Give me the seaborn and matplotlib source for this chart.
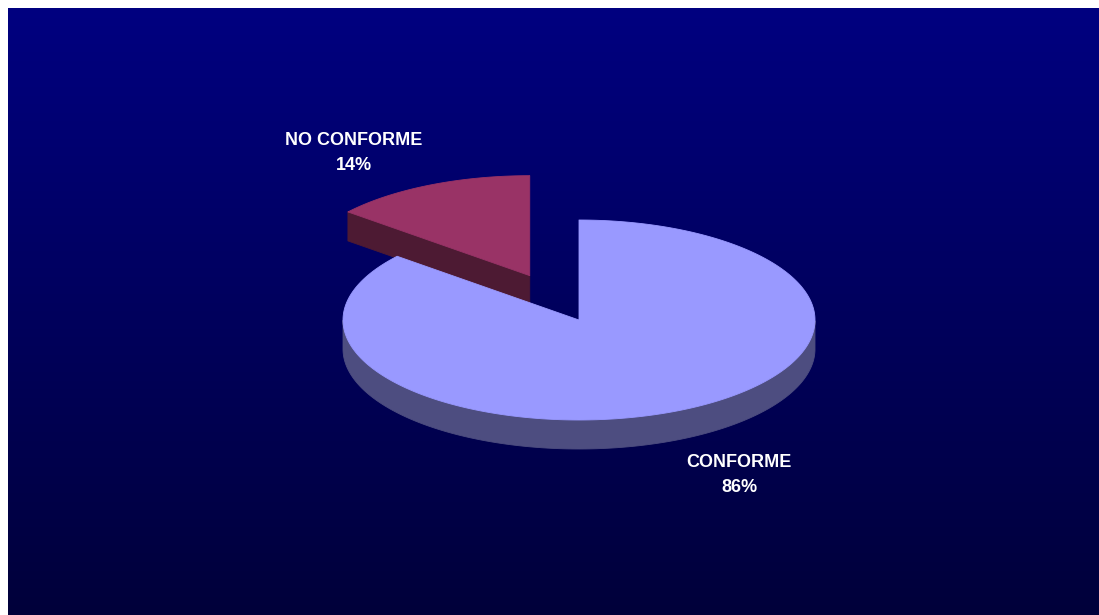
import numpy as np
import matplotlib
matplotlib.use("Agg")
import matplotlib.pyplot as plt
from matplotlib.patches import Polygon
import seaborn as sns

# Data
categories = ["CONFORME", "NO CONFORME"]
shares = [86, 14]
top_colors = ["#9999FF", "#993366"]
explode = [0.0, 0.49]
label_xy = [(739, 475), (354, 153)]

sns.set_theme(style="white")
plt.rcParams["font.family"] = ["Liberation Sans", "DejaVu Sans"]

W, H = 1099, 615
fig = plt.figure(figsize=(W / 100, H / 100), dpi=100, facecolor="white")
ax = fig.add_axes([0, 0, 1, 1])
ax.set_xlim(0, W)
ax.set_ylim(H, 0)
ax.axis("off")

# Vertical navy gradient behind the chart
g = np.linspace(0, 1, 256)[:, None, None]
c_top = np.array([0, 0, 128]) / 255
c_bot = np.array([0, 0, 58]) / 255
img = c_top + (c_bot - c_top) * g
ax.imshow(img, extent=[8, W, H, 8], aspect="auto",
          interpolation="bilinear", zorder=0)

# Pie geometry (projected ellipse with depth)
cx, cy = 579, 320
rx, ry = 236, 100
depth = 29


def rim(t, ox, oy, dz=0.0):
    return np.column_stack([cx + ox + rx * np.cos(t),
                            cy + oy - ry * np.sin(t) + dz])


def shade(hex_color, f=0.5):
    rgb = np.array(matplotlib.colors.to_rgb(hex_color))
    return tuple(rgb * f)


# Slices run clockwise from 12 o'clock
total = float(sum(shares))
slices = []
start = np.pi / 2
for cat, val, col, ex in zip(categories, shares, top_colors, explode):
    sweep = 2 * np.pi * val / total
    t1 = start
    t0 = start - sweep
    start = t0
    mid = 0.5 * (t0 + t1)
    ox = ex * rx * np.cos(mid)
    oy = -ex * ry * np.sin(mid)
    slices.append(dict(cat=cat, val=val, col=col, t0=t0, t1=t1,
                       mid=mid, ox=ox, oy=oy))

# Back slices first
slices.sort(key=lambda s: -np.sin(s["mid"]))

z = 2
for s in slices:
    t0, t1, ox, oy = s["t0"], s["t1"], s["ox"], s["oy"]
    side = shade(s["col"], 0.5)
    kw = dict(linewidth=0.6, joinstyle="round")

    # Outer wall on the front half
    ts = np.linspace(t0, t1, 600)
    front = np.sin(ts) <= 0
    idx = np.flatnonzero(front)
    if idx.size:
        groups = np.split(idx, np.flatnonzero(np.diff(idx) > 1) + 1)
        for grp in groups:
            tt = ts[grp]
            pts = np.vstack([rim(tt, ox, oy), rim(tt[::-1], ox, oy, depth)])
            ax.add_patch(Polygon(pts, closed=True, facecolor=side,
                                 edgecolor=side, zorder=z, **kw))

    # Radial cut faces that face the viewer
    apex = np.array([cx + ox, cy + oy])
    for t, visible in ((t0, np.cos(t0) > 1e-9), (t1, np.cos(t1) < -1e-9)):
        if visible:
            p = rim(np.array([t]), ox, oy)[0]
            pts = np.array([apex, p, p + [0, depth], apex + [0, depth]])
            ax.add_patch(Polygon(pts, closed=True, facecolor=side,
                                 edgecolor=side, zorder=z, **kw))

    # Top face
    tt = np.linspace(t0, t1, 600)
    pts = np.vstack([apex, rim(tt, ox, oy)])
    ax.add_patch(Polygon(pts, closed=True, facecolor=s["col"],
                         edgecolor=s["col"], zorder=z + 0.5, **kw))
    z += 1

# Labels
for cat, val, (lx, ly) in zip(categories, shares, label_xy):
    ax.text(lx, ly, f"{cat}\n{val}%", color="white", fontsize=13,
            fontweight="bold", ha="center", va="center",
            linespacing=1.65, zorder=10)

fig.savefig("out.png", dpi=100, facecolor="white")
